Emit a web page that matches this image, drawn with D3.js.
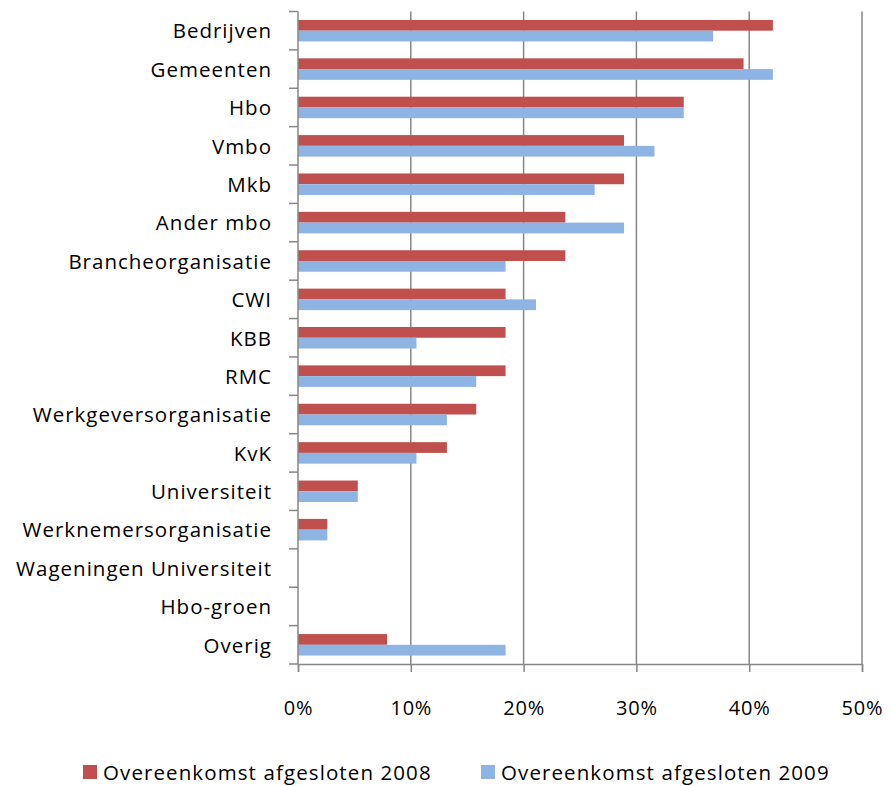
<!DOCTYPE html>
<html>
<head>
<meta charset="utf-8">
<script src="https://cdn.jsdelivr.net/npm/d3@7"></script>
<style>
  html, body { margin: 0; padding: 0; background: #fff; }
  svg { display: block; font-family: "Open Sans", sans-serif; }
</style>
</head>
<body>
<svg id="chart" width="891" height="786"></svg>
<script>
const categories = ["Bedrijven","Gemeenten","Hbo","Vmbo","Mkb","Ander mbo","Brancheorganisatie","CWI","KBB","RMC","Werkgeversorganisatie","KvK","Universiteit","Werknemersorganisatie","Wageningen Universiteit","Hbo-groen","Overig"];
const seriesNames = ["Overeenkomst afgesloten 2008","Overeenkomst afgesloten 2009"];
const values2008 = [0.421,0.395,0.342,0.289,0.289,0.237,0.237,0.184,0.184,0.184,0.158,0.132,0.053,0.026,0,0,0.079];
const values2009 = [0.368,0.421,0.342,0.316,0.263,0.289,0.184,0.211,0.105,0.158,0.132,0.105,0.053,0.026,0,0,0.184];
const xTicks = [0,0.1,0.2,0.3,0.4,0.5];
const colors = ["#C0504D","#8EB4E3"];

const svg = d3.select("#chart");
const pLeft = 298, pRight = 862, pTop = 11.5, pBottom = 664;
const gridColor = "#878787";

const x = d3.scaleLinear().domain([0,0.5]).range([pLeft,pRight]);
const y0 = d3.scaleBand().domain(categories).range([pTop,pBottom]).paddingInner(0.44).paddingOuter(0.22);
const y1 = d3.scaleBand().domain(seriesNames).range([0,y0.bandwidth()]);

// gridlines
svg.append("g").selectAll("line").data(xTicks.filter(d=>d>0)).join("line")
  .attr("x1",d=>x(d)).attr("x2",d=>x(d)).attr("y1",pTop).attr("y2",pBottom)
  .attr("stroke",gridColor).attr("stroke-width",1.5);

// bars
const data = categories.map((c,i)=>({cat:c, vals:[values2008[i], values2009[i]]}));
const groups = svg.append("g").selectAll("g").data(data).join("g")
  .attr("transform",d=>`translate(0,${y0(d.cat)})`);
groups.selectAll("rect").data(d=>d.vals.map((v,j)=>({v, s:seriesNames[j], j})))
  .join("rect")
  .attr("x",x(0)).attr("y",d=>y1(d.s)).attr("height",y1.bandwidth())
  .attr("width",d=>x(d.v)-x(0)).attr("fill",d=>colors[d.j]);

// bottom axis
const xAxis = d3.axisBottom(x).tickValues(xTicks).tickFormat(d3.format(".0%")).tickSize(8).tickPadding(29);
const gx = svg.append("g").attr("transform",`translate(0,${pBottom})`).call(xAxis);
gx.select(".domain").attr("stroke",gridColor).attr("stroke-width",1.5);
gx.selectAll(".tick line").attr("stroke",gridColor).attr("stroke-width",1.5);
gx.selectAll(".tick text").attr("font-family","Open Sans, sans-serif").attr("font-size",20)
  .attr("letter-spacing",0.8).attr("fill","#000");

// left axis line and boundary ticks
const step = y0.step();
const boundaries = d3.range(categories.length+1).map(i => i < categories.length ? y0(categories[i]) - step*y0.paddingInner()/2 : pBottom);
svg.append("line").attr("x1",pLeft).attr("x2",pLeft).attr("y1",pTop).attr("y2",pBottom)
  .attr("stroke",gridColor).attr("stroke-width",1.5);
svg.append("g").selectAll("line").data(boundaries).join("line")
  .attr("x1",pLeft-9).attr("x2",pLeft).attr("y1",d=>d).attr("y2",d=>d)
  .attr("stroke",gridColor).attr("stroke-width",1.5);

// category labels
svg.append("g").selectAll("text").data(categories).join("text")
  .attr("x",272).attr("y",d=>y0(d)+y0.bandwidth()/2).attr("dy","0.38em")
  .attr("text-anchor","end").attr("letter-spacing",1)
  .attr("font-size",20.5).attr("fill","#000").text(d=>d);

// legend
const legendX = [83, 481];
const lg = svg.append("g").selectAll("g").data(seriesNames).join("g")
  .attr("transform",(d,i)=>`translate(${legendX[i]},765)`);
lg.append("rect").attr("width",14).attr("height",14).attr("fill",(d,i)=>colors[i]);
lg.append("text").attr("x",20).attr("y",15).attr("letter-spacing",1.1)
  .attr("font-size",20.5).attr("fill","#000").text(d=>d);
</script>
</body>
</html>
